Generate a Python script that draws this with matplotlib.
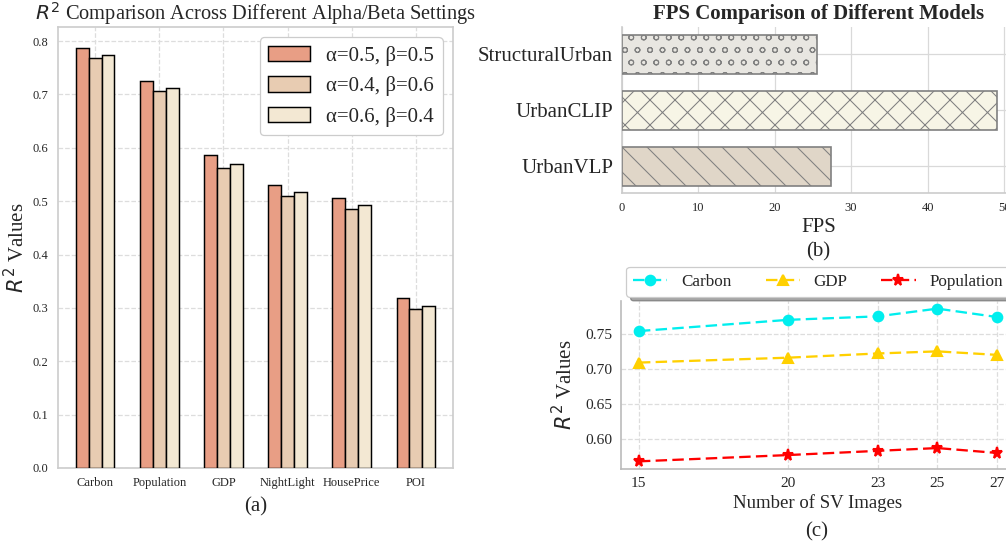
import matplotlib
matplotlib.use('Agg')
import matplotlib.pyplot as plt
import numpy as np

plt.rcParams['font.family'] = ['Liberation Serif', 'DejaVu Serif']
plt.rcParams['mathtext.fontset'] = 'dejavusans'
plt.rcParams['hatch.linewidth'] = 0.5
plt.rcParams['text.color'] = '#262626'
plt.rcParams['axes.labelcolor'] = '#262626'
plt.rcParams['xtick.color'] = '#262626'
plt.rcParams['ytick.color'] = '#262626'

# ---- data (a) ----
categories = ['Carbon', 'Population', 'GDP', 'NightLight', 'HousePrice', 'POI']
series_labels = ['α=0.5, β=0.5', 'α=0.4, β=0.6', 'α=0.6, β=0.4']
r2_a05 = [0.787, 0.725, 0.586, 0.531, 0.506, 0.318]
r2_a04 = [0.769, 0.706, 0.562, 0.510, 0.486, 0.298]
r2_a06 = [0.774, 0.712, 0.569, 0.517, 0.493, 0.304]

# ---- data (b) ----
models = ['UrbanVLP', 'UrbanCLIP', 'StructuralUrban']
fps = [27.4, 49.05, 25.5]

# ---- data (c) ----
sv_images = [15, 20, 23, 25, 27]
carbon = [0.754, 0.770, 0.775, 0.786, 0.774]
gdp = [0.709, 0.716, 0.722, 0.725, 0.720]
population = [0.568, 0.577, 0.583, 0.587, 0.580]

W, H = 1006, 546
DPI = 150
fig = plt.figure(figsize=(W / DPI, H / DPI), dpi=DPI)
fig.patch.set_facecolor('white')


def rect(l, t, r, b):
    return [l / W, (H - b) / H, (r - l) / W, (b - t) / H]


# ================= (a) =================
ax = fig.add_axes(rect(58, 27, 453, 468))
x = np.arange(len(categories))
bw = 0.2
bar_colors = ['#E89E85', '#E8CCB2', '#F3E8D3']
for i, (vals, lab) in enumerate(zip([r2_a05, r2_a04, r2_a06], series_labels)):
    ax.bar(x + (i - 1) * bw, vals, bw, color=bar_colors[i], edgecolor='black',
           linewidth=0.7, label=lab, zorder=3)
ax.set_xticks(x)
ax.set_xticklabels(categories)
yt = np.arange(0, 0.81, 0.1)
ax.set_yticks(yt)
ax.set_yticklabels([f'{v:.1f}' for v in yt])
ax.tick_params(length=0, labelsize=6, pad=4.5)
ax.grid(True, linestyle='--', color='#dddddd', linewidth=0.6, zorder=0)
ax.set_axisbelow(True)
for s in ax.spines.values():
    s.set_color('#cccccc')
    s.set_linewidth(0.8)
ax.set_ylabel('$R^2$ Values', fontsize=10, labelpad=1.5)
ax.set_title('$R^2$ Comparison Across Different Alpha/Beta Settings', fontsize=9.8, pad=3)
leg = ax.legend(loc='upper right', fontsize=10, handlelength=2.0, handleheight=0.75,
                frameon=True, fancybox=True, edgecolor='#cccccc', framealpha=1)
leg.get_frame().set_linewidth(0.6)
fig.text(256 / W, 1 - 507 / H, '(a)', ha='center', va='center', fontsize=10)

# ================= (b) =================
axb = fig.add_axes(rect(621.5, 27, 1015.7, 193.3))
fps_colors = ['#E0D6C8', '#F7F5E6', '#E8E6E1']
hatches = ['\\\\', 'xx', 'oo']
bars = axb.barh(models, fps, height=0.7, color=fps_colors, edgecolor='#808080',
                linewidth=0.8, zorder=3)
for b, h in zip(bars, hatches):
    b.set_hatch(h)
axb.grid(True, linestyle='-', color='#d9d9d9', linewidth=0.6, zorder=0)
axb.set_axisbelow(True)
axb.spines['top'].set_visible(False)
axb.spines['right'].set_visible(False)
for s in ['left', 'bottom']:
    axb.spines[s].set_color('#cccccc')
    axb.spines[s].set_linewidth(0.8)
axb.tick_params(axis='y', length=0, labelsize=10, pad=4)
axb.tick_params(axis='x', length=0, labelsize=6, pad=4)
axb.set_xlabel('FPS', fontsize=10, labelpad=2)
axb.set_title('FPS Comparison of Different Models', fontsize=10, fontweight='bold', pad=4)
fig.text(818 / W, 1 - 251.7 / H, '(b)', ha='center', va='center', fontsize=10)

# ================= (c) =================
axc = fig.add_axes(rect(621, 301, 1015, 469))
axc.plot(sv_images, carbon, linestyle='--', color='#00EEEE', marker='o', markersize=4.6,
         linewidth=1.1, dashes=(5, 2.3), label='Carbon', zorder=3)
axc.plot(sv_images, gdp, linestyle='--', color='#FFD000', marker='^', markersize=5,
         linewidth=1.1, dashes=(5, 2.3), label='GDP', zorder=3)
axc.plot(sv_images, population, linestyle='--', color='#FF0000', marker='*', markersize=5.5,
         linewidth=1.1, dashes=(5, 2.3), label='Population', zorder=3)
axc.set_xticks(sv_images)
axc.grid(True, linestyle='--', color='#dddddd', linewidth=0.6, zorder=0)
axc.set_axisbelow(True)
axc.spines['top'].set_visible(False)
axc.spines['right'].set_visible(False)
for s in ['left', 'bottom']:
    axc.spines[s].set_color('#bbbbbb')
    axc.spines[s].set_linewidth(0.8)
axc.tick_params(length=0, labelsize=7.4, pad=4)
axc.set_xlabel('Number of SV Images', fontsize=9, labelpad=2)
axc.set_ylabel('$R^2$ Values', fontsize=10, labelpad=4)
legc = axc.legend(loc='lower center', bbox_to_anchor=(0.5, 1.0), ncol=3, fontsize=8.2,
                  frameon=True, fancybox=True, shadow=True, edgecolor='#cccccc',
                  framealpha=1, borderaxespad=0.25, handlelength=2.0)
legc.get_frame().set_linewidth(0.6)
fig.text(817 / W, 1 - 532 / H, '(c)', ha='center', va='center', fontsize=10)

fig.savefig('out.png', dpi=DPI)
